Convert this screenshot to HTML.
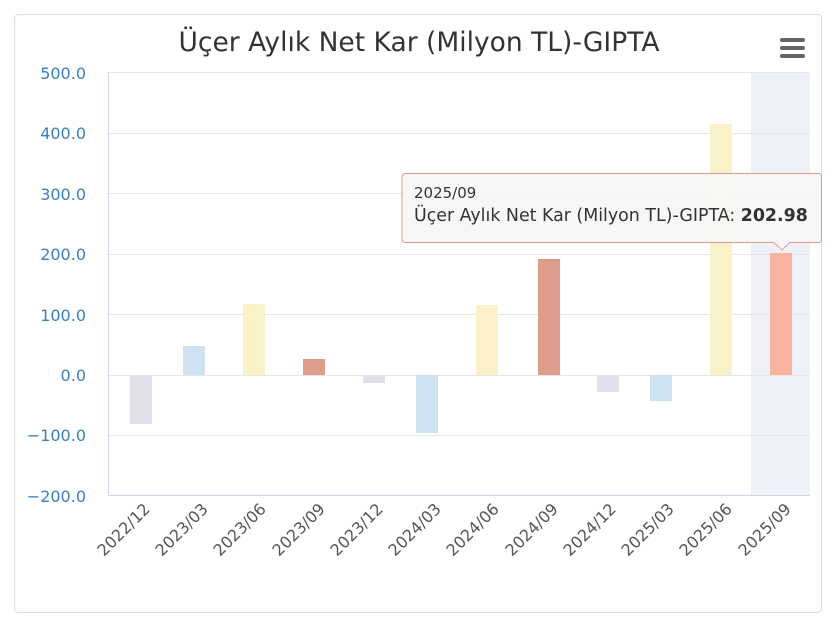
<!DOCTYPE html>
<html><head><meta charset="utf-8"><style>
body{margin:0;background:#fff;width:837px;height:633px;overflow:hidden;font-family:"DejaVu Sans","Liberation Sans",sans-serif}
</style></head><body>
<svg width="837" height="633" xmlns="http://www.w3.org/2000/svg" font-family="DejaVu Sans, Liberation Sans, sans-serif">
<rect x="14.5" y="14.5" width="807" height="598" rx="4" fill="#fff" stroke="#ddd"/>
<text x="419" y="51" font-size="26.5" text-anchor="middle" fill="#333">Üçer Aylık Net Kar (Milyon TL)-GIPTA</text>
<g fill="#666"><rect x="780" y="38" width="25" height="4" rx="2"/><rect x="780" y="46" width="25" height="4" rx="2"/><rect x="780" y="54" width="25" height="4" rx="2"/></g>
<rect x="751" y="72" width="59" height="423" fill="#eef2f8"/>
<g stroke="#e6e6e6" stroke-width="1">
<line x1="108" x2="810" y1="72.5" y2="72.5"/><line x1="108" x2="810" y1="133.5" y2="133.5"/><line x1="108" x2="810" y1="193.5" y2="193.5"/><line x1="108" x2="810" y1="254.5" y2="254.5"/><line x1="108" x2="810" y1="314.5" y2="314.5"/><line x1="108" x2="810" y1="375.5" y2="375.5"/><line x1="108" x2="810" y1="435.5" y2="435.5"/>
</g>
<line x1="108.5" x2="108.5" y1="72" y2="495" stroke="#ccd6eb"/>
<line x1="108" x2="810" y1="495.5" y2="495.5" stroke="#ccd6eb"/>
<g font-size="16" fill="#3a7fc1" text-anchor="end">
<text x="86" y="79">500.0</text><text x="86" y="139">400.0</text><text x="86" y="200">300.0</text><text x="86" y="260">200.0</text><text x="86" y="321">100.0</text><text x="86" y="381">0.0</text><text x="86" y="441">−100.0</text><text x="86" y="502">−200.0</text>
</g>
<g>
<rect x="130" y="375" width="22" height="49" fill="#e1dfea"/>
<rect x="183" y="346" width="22" height="29" fill="#cfe2f0"/>
<rect x="243" y="304" width="22" height="71" fill="#fbf1c9"/>
<rect x="303" y="359" width="22" height="16" fill="#e09c8b"/>
<rect x="363" y="375" width="22" height="8" fill="#e1dfea"/>
<rect x="416" y="375" width="22" height="58" fill="#cfe2f0"/>
<rect x="476" y="305" width="22" height="70" fill="#fbf1c9"/>
<rect x="538" y="259" width="22" height="116" fill="#e09c8b"/>
<rect x="597" y="375" width="22" height="17" fill="#e1dfea"/>
<rect x="650" y="375" width="22" height="26" fill="#cfe2f0"/>
<rect x="710" y="124" width="22" height="251" fill="#fbf1c9"/>
<rect x="770" y="253" width="22" height="122" fill="#f9b4a0"/>
</g>
<g font-size="16" fill="#555" text-anchor="end">
<text transform="translate(151,510) rotate(-45)">2022/12</text>
<text transform="translate(209,510) rotate(-45)">2023/03</text>
<text transform="translate(267,510) rotate(-45)">2023/06</text>
<text transform="translate(326,510) rotate(-45)">2023/09</text>
<text transform="translate(384,510) rotate(-45)">2023/12</text>
<text transform="translate(442,510) rotate(-45)">2024/03</text>
<text transform="translate(500,510) rotate(-45)">2024/06</text>
<text transform="translate(559,510) rotate(-45)">2024/09</text>
<text transform="translate(617,510) rotate(-45)">2024/12</text>
<text transform="translate(675,510) rotate(-45)">2025/03</text>
<text transform="translate(733,510) rotate(-45)">2025/06</text>
<text transform="translate(792,510) rotate(-45)">2025/09</text>
</g>
<path d="M405.5 173.5 H818 Q821.5 173.5 821.5 177 V239 Q821.5 242.5 818 242.5 H790 L782 250 L774 242.5 H405.5 Q402 242.5 402 239 V177 Q402 173.5 405.5 173.5 Z" fill="#f7f7f7" fill-opacity="0.95" stroke="#e09c8b"/>
<text x="414" y="198" font-size="15" fill="#333">2025/09</text>
<text x="414" y="221" font-size="17.4" fill="#333">Üçer Aylık Net Kar (Milyon TL)-GIPTA: <tspan font-weight="bold">202.98</tspan></text>
</svg>
</body></html>
